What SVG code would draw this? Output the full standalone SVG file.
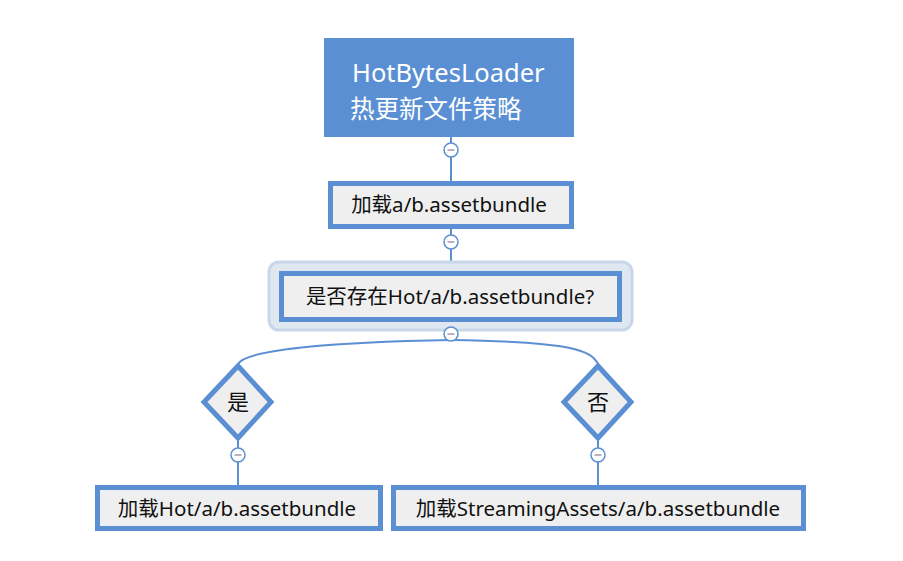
<svg xmlns="http://www.w3.org/2000/svg" width="903" height="561" viewBox="0 0 903 561">
<style>
.t{font-family:"Segoe UI","Noto Sans","Noto Sans CJK SC",sans-serif;font-size:20.5px;fill:#111;text-anchor:middle}
.box{fill:#efefef;stroke:#5b8fd3;stroke-width:5}
.ln{fill:none;stroke:#5b8fd3;stroke-width:2}
.c{fill:#fff;stroke:#5b8fd3;stroke-width:1.5}
.m{stroke:#9a8aa0;stroke-width:1.3}
</style>
<rect width="903" height="561" fill="#fff"/>
<g id="connectors">
<line class="ln" x1="451" y1="137" x2="451" y2="181"/>
<line class="ln" x1="451" y1="229" x2="451" y2="271"/>
<path class="ln" d="M451,340 C330,342 245,350 238,364"/>
<path class="ln" d="M451,340 C572,342 591,350 598,364"/>
<line class="ln" x1="238" y1="440" x2="238" y2="486"/>
<line class="ln" x1="598" y1="440" x2="598" y2="486"/>
</g>
<g id="root">
<rect x="324" y="38" width="250" height="99" fill="#5b8fd3"/>
<text x="352" y="82" font-family="Segoe UI,Noto Sans,Noto Sans CJK SC,sans-serif" font-size="25.5" fill="#fff">HotBytesLoader</text>
<text x="350" y="118" font-family="Noto Sans CJK SC,sans-serif" font-size="24.5" fill="#fff">热更新文件策略</text>
</g>
<g id="load">
<rect class="box" x="330.5" y="183.5" width="241" height="43"/>
<text class="t" x="449" y="212">加载a/b.assetbundle</text>
</g>
<g id="check">
<rect x="269" y="262" width="363" height="68" rx="10" fill="#dfe8f1" stroke="#c7d7e8" stroke-width="3"/>
<rect class="box" x="281.5" y="273.5" width="338" height="46" fill="#dde6ee"/>
<text class="t" x="450" y="304">是否存在Hot/a/b.assetbundle?</text>
</g>
<g id="yes">
<polygon class="box" points="238,366 271,402 238,438 204,402" stroke-width="6"/>
<text class="t" x="238" y="410" style="font-size:22px">是</text>
</g>
<g id="no">
<polygon class="box" points="598,366 631,402 598,438 564,402" stroke-width="6"/>
<text class="t" x="598" y="410" style="font-size:22px">否</text>
</g>
<g id="loadHot">
<rect class="box" x="97.5" y="487.5" width="283" height="41"/>
<text class="t" x="237" y="516">加载Hot/a/b.assetbundle</text>
</g>
<g id="loadStreaming">
<rect class="box" x="393.5" y="487.5" width="410" height="41"/>
<text class="t" x="598" y="516">加载StreamingAssets/a/b.assetbundle</text>
</g>
<g id="toggles">
<circle class="c" cx="451" cy="150" r="7"/><line class="m" x1="447.5" y1="150" x2="454.5" y2="150"/>
<circle class="c" cx="451" cy="242" r="7"/><line class="m" x1="447.5" y1="242" x2="454.5" y2="242"/>
<circle class="c" cx="451" cy="334" r="7"/><line class="m" x1="447.5" y1="334" x2="454.5" y2="334"/>
<circle class="c" cx="238" cy="455" r="7"/><line class="m" x1="234.5" y1="455" x2="241.5" y2="455"/>
<circle class="c" cx="598" cy="455" r="7"/><line class="m" x1="594.5" y1="455" x2="601.5" y2="455"/>
</g>
</svg>
